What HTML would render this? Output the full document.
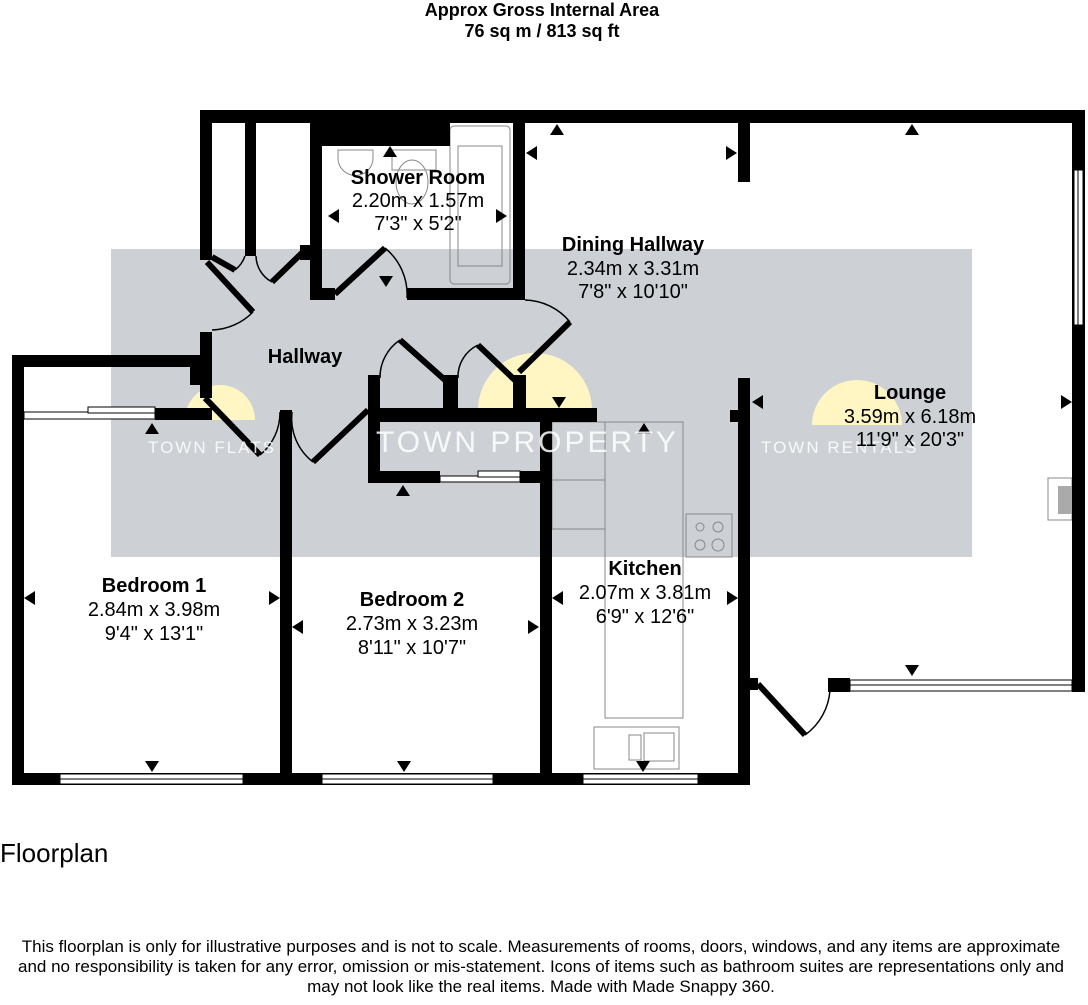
<!DOCTYPE html>
<html><head><style>
body{margin:0;background:#fff;width:1088px;height:1000px;overflow:hidden;font-family:"Liberation Sans",sans-serif;}
</style></head><body>
<svg width="1088" height="1000" viewBox="0 0 1088 1000" xmlns="http://www.w3.org/2000/svg" font-family="Liberation Sans, sans-serif">
<rect width="1088" height="1000" fill="#fff"/>
<text x="542" y="16" font-size="18" font-weight="bold" text-anchor="middle">Approx Gross Internal Area</text>
<text x="542" y="37" font-size="18" font-weight="bold" text-anchor="middle">76 sq m / 813 sq ft</text>

<rect x="111" y="249" width="861" height="308" fill="#cdd1d6"/>
<g fill="#fff6c4">
<path d="M478 410 A57 57 0 0 1 592 410 Z"/>
<path d="M185 420 A35 35 0 0 1 255 420 Z"/>
<path d="M812 425 A45 45 0 0 1 902 425 Z"/>
</g>

<g fill="none" stroke="#888" stroke-width="1">
<rect x="552" y="422" width="53" height="58"/><rect x="552" y="480" width="53" height="49"/>
<rect x="605" y="422" width="78" height="296"/>
<rect x="686" y="514" width="46" height="43"/>
<circle cx="700" cy="527" r="4"/><circle cx="718" cy="527" r="5"/><circle cx="700" cy="545" r="5"/><circle cx="718" cy="545" r="6"/>
<rect x="594" y="727" width="85" height="42"/>
<rect x="629" y="735" width="12" height="25"/><rect x="644" y="733" width="30" height="28"/>
<rect x="450" y="126" width="60" height="158" rx="4"/><rect x="458" y="146" width="44" height="120"/>
<rect x="392" y="150" width="44" height="20"/><ellipse cx="412" cy="182" rx="16" ry="22"/>
<path d="M338 150 h35 v8 a17 17 0 0 1 -35 0 z"/>
<path d="M1048 478 h24 v42 h-24 z"/>
</g>
<rect x="1058" y="486" width="14" height="28" fill="#aaa"/>

<g fill="#000">
<rect x="200" y="110" width="885" height="13"/>
<rect x="1072" y="110" width="13" height="582"/>
<rect x="200" y="110" width="12" height="150"/>
<rect x="245" y="123" width="11" height="133"/>
<rect x="310" y="123" width="12" height="177"/>
<rect x="310" y="288" width="25" height="12"/>
<rect x="310" y="123" width="140" height="23"/>
<rect x="407" y="288" width="118" height="12"/>
<rect x="513" y="123" width="12" height="177"/>
<rect x="738" y="123" width="12" height="59"/>
<rect x="300" y="245" width="10" height="15"/>
<rect x="200" y="332" width="12" height="66"/>
<rect x="12" y="355" width="200" height="12"/>
<rect x="12" y="355" width="12" height="430"/>
<rect x="155" y="408" width="57" height="12"/>
<rect x="190" y="355" width="22" height="30"/>
<rect x="280" y="410" width="12" height="365"/>
<rect x="12" y="773" width="738" height="12"/>
<rect x="540" y="410" width="12" height="375"/>
<rect x="368" y="375" width="12" height="108"/>
<rect x="368" y="408" width="229" height="14"/>
<rect x="368" y="471" width="72" height="12"/>
<rect x="520" y="471" width="32" height="12"/>
<rect x="443" y="375" width="15" height="35"/>
<rect x="513" y="375" width="13" height="35"/>
<rect x="738" y="378" width="12" height="407"/>
<rect x="730" y="410" width="10" height="12"/>
<rect x="750" y="678" width="8" height="12"/>
<rect x="828" y="678" width="22" height="14"/>
</g>
<g fill="#fff" stroke="#000" stroke-width="1">
<rect x="1074" y="170" width="9" height="155"/><line x1="1078" y1="170" x2="1078" y2="325"/>
<rect x="60" y="774" width="183" height="10"/><line x1="60" y1="779" x2="243" y2="779"/>
<rect x="322" y="774" width="171" height="10"/><line x1="322" y1="779" x2="493" y2="779"/>
<rect x="583" y="774" width="115" height="10"/><line x1="583" y1="779" x2="698" y2="779"/>
<rect x="850" y="680" width="222" height="11"/><line x1="850" y1="685" x2="1072" y2="685"/>
<rect x="24" y="412" width="131" height="7"/><rect x="88" y="407" width="67" height="6"/>
<rect x="440" y="476" width="80" height="6"/><rect x="478" y="471" width="42" height="6"/>
</g>
<g stroke="#000" fill="none">
<g stroke-width="6">
<line x1="207" y1="262" x2="253" y2="312"/>
<line x1="212" y1="257" x2="235" y2="270"/>
<line x1="272" y1="282" x2="305" y2="250"/>
<line x1="335" y1="294" x2="385" y2="248"/>
<line x1="519" y1="372" x2="570" y2="322"/>
<line x1="400" y1="340" x2="445" y2="380"/>
<line x1="478" y1="345" x2="520" y2="385"/>
<line x1="205" y1="398" x2="260" y2="455"/>
<line x1="313" y1="462" x2="368" y2="410"/>
<line x1="758" y1="684" x2="805" y2="735"/>
</g>
<g stroke-width="1.5">
<path d="M253 312 A60 60 0 0 1 212 330"/>
<path d="M235 270 A30 30 0 0 0 245 256"/>
<path d="M272 282 A30 30 0 0 1 256 256"/>
<path d="M385 248 A60 60 0 0 1 407 298"/>
<path d="M570 322 A60 60 0 0 0 525 300"/>
<path d="M400 340 A45 45 0 0 0 380 378"/>
<path d="M478 345 A35 35 0 0 0 458 378"/>
<path d="M260 455 A55 55 0 0 0 280 412"/>
<path d="M313 462 A55 55 0 0 1 292 412"/>
<path d="M805 735 A60 60 0 0 0 830 690"/>
</g>
</g>

<g fill="#000">
<path d="M550 135 l7 -11 l7 11z"/><path d="M905 135 l7 -11 l7 11z"/>
<path d="M526 153 l11 -7 v14z"/><path d="M737 153 l-11 -7 v14z"/>
<path d="M383 157 l7 -11 l7 11z"/>
<path d="M328 216 l11 -7 v14z"/><path d="M507 216 l-11 -7 v14z"/>
<path d="M379 276 l7 11 l7 -11z"/>
<path d="M752 402 l11 -7 v14z"/><path d="M1072 402 l-11 -7 v14z"/>
<path d="M552 397 l7 11 l7 -11z"/>
<path d="M637 434 l7 -11 l7 11z"/>
<path d="M145 434 l7 -11 l7 11z"/>
<path d="M396 496 l7 -11 l7 11z"/>
<path d="M24 598 l11 -7 v14z"/><path d="M280 598 l-11 -7 v14z"/>
<path d="M292 627 l11 -7 v14z"/><path d="M539 627 l-11 -7 v14z"/>
<path d="M552 598 l11 -7 v14z"/><path d="M738 598 l-11 -7 v14z"/>
<path d="M145 761 l7 11 l7 -11z"/><path d="M397 761 l7 11 l7 -11z"/><path d="M636 761 l7 11 l7 -11z"/>
<path d="M905 665 l7 11 l7 -11z"/>
</g>

<g fill="#fff" opacity="0.85">
<text x="376" y="452" font-size="30" letter-spacing="3">TOWN PROPERTY</text>
<text x="148" y="453" font-size="17" letter-spacing="2">TOWN FLATS</text>
<text x="761" y="453" font-size="17" letter-spacing="2">TOWN RENTALS</text>
</g>

<g font-size="20" text-anchor="middle" fill="#000">
<text x="418" y="184" font-weight="bold">Shower Room</text>
<text x="418" y="207">2.20m x 1.57m</text>
<text x="418" y="230">7'3" x 5'2"</text>
<text x="633" y="251" font-weight="bold">Dining Hallway</text>
<text x="633" y="275">2.34m x 3.31m</text>
<text x="633" y="298">7'8" x 10'10"</text>
<text x="305" y="363" font-weight="bold">Hallway</text>
<text x="910" y="399" font-weight="bold">Lounge</text>
<text x="910" y="423">3.59m x 6.18m</text>
<text x="910" y="446">11'9" x 20'3"</text>
<text x="154" y="592" font-weight="bold">Bedroom 1</text>
<text x="154" y="616">2.84m x 3.98m</text>
<text x="154" y="640">9'4" x 13'1"</text>
<text x="412" y="606" font-weight="bold">Bedroom 2</text>
<text x="412" y="630">2.73m x 3.23m</text>
<text x="412" y="654">8'11" x 10'7"</text>
<text x="645" y="575" font-weight="bold">Kitchen</text>
<text x="645" y="599">2.07m x 3.81m</text>
<text x="645" y="623">6'9" x 12'6"</text>
</g>
<text x="0" y="862" font-size="26">Floorplan</text>
<g font-size="17" text-anchor="middle">
<text x="541" y="952">This floorplan is only for illustrative purposes and is not to scale. Measurements of rooms, doors, windows, and any items are approximate</text>
<text x="541" y="972">and no responsibility is taken for any error, omission or mis-statement. Icons of items such as bathroom suites are representations only and</text>
<text x="541" y="992">may not look like the real items. Made with Made Snappy 360.</text>
</g>
</svg>
</body></html>
